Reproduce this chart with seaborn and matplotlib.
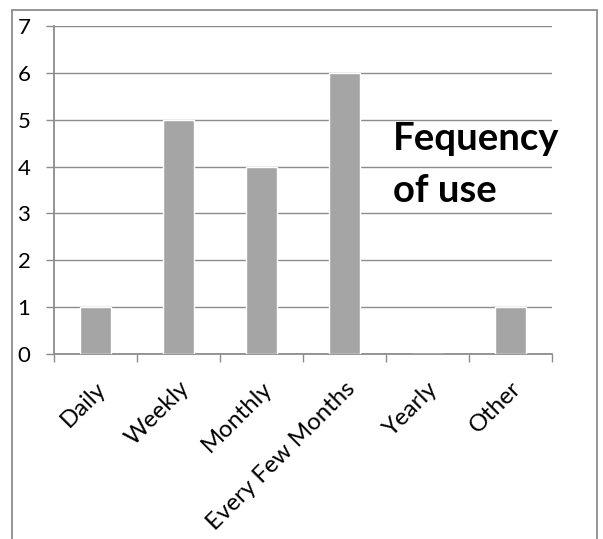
import matplotlib
matplotlib.use("Agg")
import matplotlib.pyplot as plt
import seaborn as sns
import pandas as pd
from matplotlib.patches import Rectangle

categories = ["Daily", "Weekly", "Monthly", "Every Few Months", "Yearly", "Other"]
counts = [1, 5, 4, 6, 0, 1]
yticks = [0, 1, 2, 3, 4, 5, 6, 7]
title_lines = ["Fequency", "of use"]

sns.set_theme(style="white")
plt.rcParams['font.family'] = ['Lato', 'DejaVu Sans']

df = pd.DataFrame({"category": categories, "count": counts})

fig = plt.figure(figsize=(6.03, 5.39), dpi=100)
ax = fig.add_axes([54/603, 1-354/539, (552-54)/603, (354-26)/539])

sns.barplot(data=df, x="category", y="count", color="#A5A5A5", saturation=1,
            width=0.385, ax=ax, zorder=3)

ax.set_ylim(0, 7)
ax.set_xlim(-0.5, len(categories) - 0.5)
ax.set_yticks(yticks)
ax.set_yticklabels([str(v) for v in yticks])
ax.yaxis.grid(True, color="#8C8C8C", linewidth=1.0, zorder=0)
ax.set_axisbelow(True)
ax.set_xlabel("")
ax.set_ylabel("")

for s in ["top", "right"]:
    ax.spines[s].set_visible(False)
for s in ["left", "bottom"]:
    ax.spines[s].set_color("#8C8C8C")
    ax.spines[s].set_linewidth(1.3)

# x ticks at category boundaries
ax.set_xticks([i - 0.5 for i in range(len(categories) + 1)], minor=True)
ax.tick_params(axis="x", which="minor", bottom=True, length=6, width=1.0,
               color="#8C8C8C", direction="out")
ax.set_xticks(range(len(categories)))
ax.tick_params(axis="x", which="major", bottom=False, length=0, pad=17)
ax.set_xticklabels(categories, rotation=45, ha="right", va="top",
                   rotation_mode="anchor", fontsize=17.3, color="black")
ax.tick_params(axis="y", left=True, length=6, width=1.0, color="#8C8C8C",
               direction="out", pad=11, labelsize=16, labelcolor="black")

for line, yb in zip(title_lines, [0.622, 0.463]):
    ax.text(0.681, yb, line, transform=ax.transAxes, fontsize=27.5,
            fontweight="bold", ha="left", va="baseline", color="black")

fig.patches.append(Rectangle((12/603, -0.05), (597-12)/603, 1.05 - 10/539,
                             transform=fig.transFigure, fill=False,
                             edgecolor="#8C8C8C", linewidth=1.3, zorder=10))

fig.savefig("out.png", dpi=100)
